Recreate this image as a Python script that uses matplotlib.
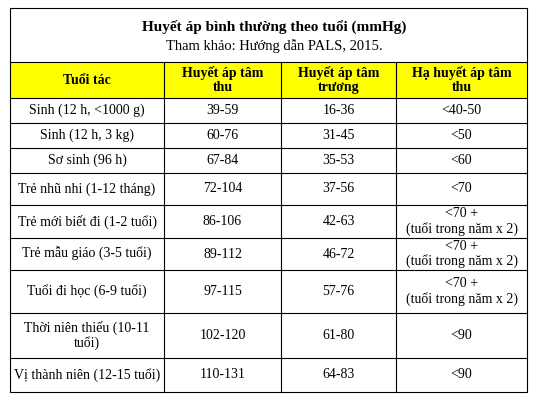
import matplotlib
matplotlib.use("Agg")
import matplotlib.pyplot as plt
from matplotlib.patches import Rectangle

title = "Huyết áp bình thường theo tuổi (mmHg)"
subtitle = "Tham khảo: Hướng dẫn PALS, 2015."
headers = ["Tuổi tác", "Huyết áp tâm\nthu", "Huyết áp tâm\ntrương", "Hạ huyết áp tâm\nthu"]
ages = ["Sinh (12 h, <1000 g)", "Sinh (12 h, 3 kg)", "Sơ sinh (96 h)",
        "Trẻ nhũ nhi (1-12 tháng)", "Trẻ mới biết đi (1-2 tuổi)",
        "Trẻ mẫu giáo (3-5 tuổi)", "Tuổi đi học (6-9 tuổi)",
        "Thời niên thiếu (10-11\ntuổi)", "Vị thành niên (12-15 tuổi)"]
systolic = ["39-59", "60-76", "67-84", "72-104", "86-106", "89-112", "97-115", "102-120", "110-131"]
diastolic = ["16-36", "31-45", "35-53", "37-56", "42-63", "46-72", "57-76", "61-80", "64-83"]
hypotension = ["<40-50", "<50", "<60", "<70", "<70 +\n(tuổi trong năm x 2)",
               "<70 +\n(tuổi trong năm x 2)", "<70 +\n(tuổi trong năm x 2)", "<90", "<90"]

W, H = 533, 400
col_x = [10, 164, 281, 396, 527]
row_y = [8, 62, 98, 123, 148, 173, 205, 238, 270, 313, 358, 392]

plt.rcParams['font.family'] = ['Liberation Serif', 'DejaVu Serif']
fig = plt.figure(figsize=(W / 100, H / 100), dpi=100)
ax = fig.add_axes([0, 0, 1, 1])
ax.set_xlim(0, W)
ax.set_ylim(H, 0)
ax.axis('off')

lw = 0.8
# header background
ax.add_patch(Rectangle((col_x[0], row_y[1]), col_x[-1] - col_x[0], row_y[2] - row_y[1],
                       facecolor='#ffff00', edgecolor='none'))
# outer border
ax.add_patch(Rectangle((col_x[0], row_y[0]), col_x[-1] - col_x[0], row_y[-1] - row_y[0],
                       facecolor='none', edgecolor='black', lw=lw))
for y in row_y[1:-1]:
    ax.plot([col_x[0], col_x[-1]], [y, y], color='black', lw=lw)
for x in col_x[1:-1]:
    ax.plot([x, x], [row_y[1], row_y[-1]], color='black', lw=lw)

cx = [(col_x[i] + col_x[i + 1]) / 2 for i in range(4)]
ax.text(W / 2 + 8, 27, title, ha='center', va='center', fontsize=11, fontweight='bold')
ax.text(W / 2 + 8, 46, subtitle, ha='center', va='center', fontsize=10.5)
hy = (row_y[1] + row_y[2]) / 2
for c, h in zip(cx, headers):
    ax.text(c, hy, h, ha='center', va='center', fontsize=10, fontweight='bold', linespacing=1.15)

for i in range(len(ages)):
    y = (row_y[i + 2] + row_y[i + 3]) / 2
    for c, v in zip(cx, [ages[i], systolic[i], diastolic[i], hypotension[i]]):
        ax.text(c, y, v, ha='center', va='center', fontsize=10, linespacing=1.15)

fig.savefig("out.png", dpi=100)
